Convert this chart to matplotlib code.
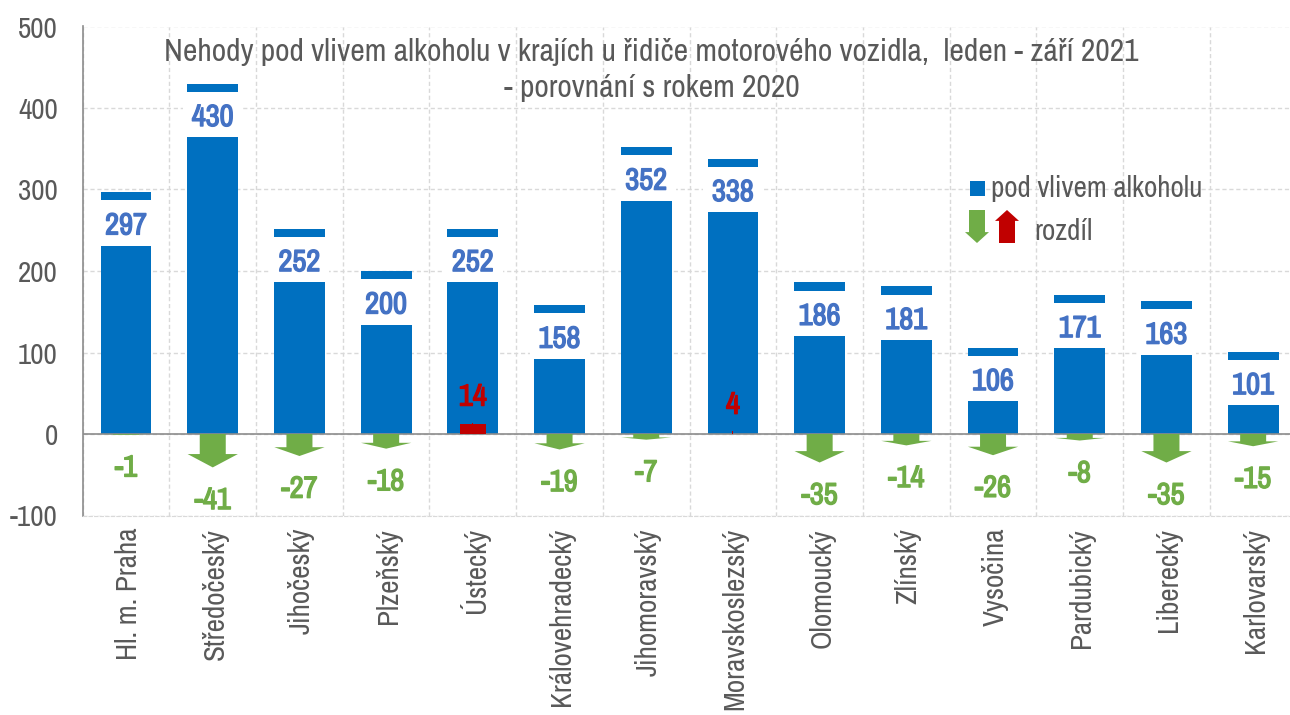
import matplotlib
matplotlib.use("Agg")
import matplotlib.pyplot as plt
from matplotlib.patches import Polygon, Rectangle
from matplotlib.transforms import ScaledTranslation
import matplotlib.patheffects as pe

plt.rcParams['font.family'] = ['Archivo Narrow', 'Liberation Sans', 'DejaVu Sans']

regions = ["Hl. m. Praha", "Středočeský", "Jihočeský", "Plzeňský", "Ústecký",
           "Královehradecký", "Jihomoravský", "Moravskoslezský", "Olomoucký",
           "Zlínský", "Vysočina", "Pardubický", "Liberecký", "Karlovarský"]
nehody = [297, 430, 252, 200, 252, 158, 352, 338, 186, 181, 106, 171, 163, 101]
rozdil = [-1, -41, -27, -18, 14, -19, -7, 4, -35, -14, -26, -8, -35, -15]
yticks = [-100, 0, 100, 200, 300, 400, 500]

W, H = 1290, 715
BLUE = "#0070C0"
GREEN = "#70AD47"
RED = "#C00000"
GREY = "#595959"
FS = 21


def bold(color):
    # the narrow font has no bold cut here, so thicken it with a stroke
    return [pe.withStroke(linewidth=1.0, foreground=color)]


fig = plt.figure(figsize=(W / 100, H / 100), dpi=100)
# axes run a little past the right edge of the picture
ax = fig.add_axes([82.7 / W, 1 - 515.5 / H, 1213.8 / W, 489 / H])
ax.set_xlim(-0.5, 13.5)
ax.set_ylim(-100, 500)

ax.set_axisbelow(True)
ax.set_xticks([i + 0.5 for i in range(-1, 14)], minor=True)
ax.set_xticks(range(14))
ax.set_xticklabels(regions, rotation=90, fontsize=FS, color=GREY)
ax.set_yticks(yticks)
ax.set_yticklabels([str(v) for v in yticks], fontsize=FS, color=GREY)
ax.grid(True, axis="y", color="#D9D9D9", ls=(0, (3, 2)), lw=1)
ax.grid(True, axis="x", which="minor", color="#D9D9D9", ls=(0, (3, 2)), lw=1)
ax.tick_params(axis="both", which="both", length=0)
ax.tick_params(axis="x", pad=9)
ax.tick_params(axis="y", pad=18)
# rotated labels sit 2 px too far left otherwise
shift = ScaledTranslation(2 / 100, 0, fig.dpi_scale_trans)
for lab in ax.get_xticklabels():
    lab.set_transform(lab.get_transform() + shift)
for s in ["top", "right"]:
    ax.spines[s].set_visible(False)
ax.spines["left"].set_color("#8C8C8C")
ax.spines["left"].set_linewidth(1.2)
ax.spines["bottom"].set_color("#D9D9D9")
ax.spines["bottom"].set_linestyle((0, (3, 2)))

BAR_W = 0.585
x = list(range(14))

ax.bar(x, nehody, width=BAR_W, color=BLUE, zorder=2)
# white gap behind the value, leaving the cap on top of the bar
ax.bar(x, [56] * 14, bottom=[v - 66 for v in nehody], width=0.69, color="white", zorder=3)
ax.bar(x, [10] * 14, bottom=[v - 10 for v in nehody], width=BAR_W, color=BLUE, zorder=4)
for i, v in enumerate(nehody):
    ax.text(i, v - 38, str(v), ha="center", va="center_baseline", fontsize=22,
            color="#4472C4", zorder=5, path_effects=bold("#4472C4"))

ax.axhline(0, color="#8C8C8C", lw=1.2, zorder=6)


def arrow_points(xc, val):
    # block arrow from zero to val, head is 40 % of the length
    neck = val * 0.6
    return [(xc - 0.15, 0), (xc + 0.15, 0), (xc + 0.15, neck), (xc + 0.29, neck),
            (xc, val), (xc - 0.29, neck), (xc - 0.15, neck)]


for i, d in enumerate(rozdil):
    if d < 0:
        ax.add_patch(Polygon(arrow_points(i, d), color=GREEN, lw=0, zorder=7))
        ax.text(i, d - 37, str(d), ha="center", va="center_baseline", fontsize=22,
                color=GREEN, zorder=8, path_effects=bold(GREEN))
    else:
        # the up arrows are squeezed flat in the original
        half = 0.15 if d > 10 else 0.006
        ax.add_patch(Rectangle((i - half, 0), 2 * half, d * 0.85, color=RED, lw=0, zorder=7))
        ax.add_patch(Rectangle((i - 0.006, 0), 0.012, d, color=RED, lw=0, zorder=7))
        ax.text(i, d + 35, str(d), ha="center", va="center_baseline", fontsize=22,
                color=RED, zorder=8, path_effects=bold(RED))

fig.text(651 / W, 1 - 52 / H, "Nehody pod vlivem alkoholu v krajích u řidiče motorového vozidla,  leden - září 2021",
         ha="center", va="center", fontsize=22.8, color=GREY)
fig.text(652 / W, 1 - 88 / H, "- porovnání s rokem 2020",
         ha="center", va="center", fontsize=22.8, color=GREY)


def px(xp, yp):
    return (xp / W, 1 - yp / H)


def legend_arrow(xc, tip, tail, color):
    neck = tail + (tip - tail) * 0.67
    pts = [(xc - 8, tail), (xc + 8, tail), (xc + 8, neck), (xc + 12, neck), (xc, tip),
           (xc - 12, neck), (xc - 8, neck)]
    fig.add_artist(Polygon([px(a, b) for a, b in pts], closed=True, color=color, lw=0,
                           transform=fig.transFigure))


fig.add_artist(Rectangle(px(970, 196), 15 / W, 15 / H, color=BLUE, lw=0, transform=fig.transFigure))
fig.text(991 / W, 1 - 189 / H, "pod vlivem alkoholu", ha="left", va="center", fontsize=FS, color=GREY)
legend_arrow(977, 243, 210, GREEN)
legend_arrow(1007, 210, 243, RED)
fig.text(1034 / W, 1 - 232 / H, "rozdíl", ha="left", va="center", fontsize=FS, color=GREY)

fig.savefig("out.png", dpi=100, facecolor="white")
